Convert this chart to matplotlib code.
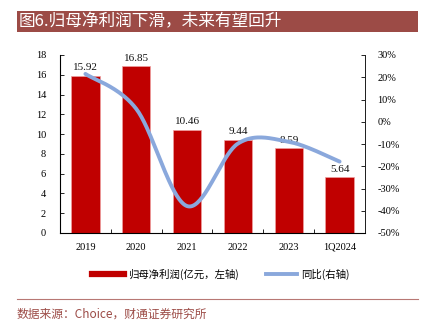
import numpy as np
import matplotlib
matplotlib.use("Agg")
import matplotlib.pyplot as plt
from matplotlib.patches import Rectangle
from matplotlib.lines import Line2D

categories = ["2019", "2020", "2021", "2022", "2023", "1Q2024"]
profit = [15.92, 16.85, 10.46, 9.44, 8.59, 5.64]
yoy = [21.5, 5.8, -37.9, -9.8, -9.0, -17.9]
left_ticks = [0, 2, 4, 6, 8, 10, 12, 14, 16, 18]
right_ticks = [-50, -40, -30, -20, -10, 0, 10, 20, 30]

title = "图6.归母净利润下滑，未来有望回升"
legend_labels = ["归母净利润(亿元，左轴)", "同比(右轴)"]
source = "数据来源：Choice，财通证券研究所"

W, H = 427, 324
fig = plt.figure(figsize=(W / 100, H / 100), dpi=100)
fig.patch.set_facecolor("white")

serif = ["Liberation Serif", "DejaVu Serif"]
cjk = ["Noto Sans CJK SC", "DejaVu Sans"]

# title bar
fig.patches.append(Rectangle((17 / W, 1 - 32 / H), 401 / W, 21 / H,
                             transform=fig.transFigure, facecolor="#9C4B46",
                             edgecolor="none", zorder=0))
fig.text(19 / W, 1 - 21.5 / H, title, color="white", fontsize=12,
         family=cjk, va="center", ha="left")

ax = fig.add_axes([60 / W, 1 - 233 / H, 305 / W, 178 / H])
x = np.arange(len(categories))
bars = ax.bar(x, profit, width=0.56, color="#C00000", edgecolor="#F0A0A0",
              linewidth=0.5, zorder=2)
for xi, v in zip(x, profit):
    ax.text(xi, v + 0.35, f"{v:.2f}", ha="center", va="bottom",
            fontsize=8, family=serif, color="#111111", zorder=5)
ax.set_xlim(-0.5, len(categories) - 0.5)
ax.set_ylim(0, 18)
ax.set_yticks(left_ticks)
ax.set_yticklabels([str(t) for t in left_ticks], family=serif, fontsize=7.5)
ax.set_xticks(x)
ax.set_xticklabels(categories, family=serif, fontsize=7.5)
ax.tick_params(axis="x", length=0, pad=7)
ax.set_xticks(np.arange(-0.5, len(categories)), minor=True)
ax.tick_params(axis="x", which="minor", direction="in", length=3, width=0.6)
ax.tick_params(axis="y", direction="in", length=3, width=0.6, pad=10)
ax.spines["top"].set_visible(False)
for s in ["left", "bottom", "right"]:
    ax.spines[s].set_linewidth(0.7)
    ax.spines[s].set_color("#222222")

ax2 = ax.twinx()
ax2.set_ylim(-50, 30)
ax2.set_yticks(right_ticks)
ax2.set_yticklabels([f"{t}%" for t in right_ticks], family=serif, fontsize=7.5)
ax2.tick_params(axis="y", direction="in", length=3, width=0.6, pad=9)
ax2.spines["top"].set_visible(False)
ax2.spines["right"].set_linewidth(0.7)
ax2.spines["right"].set_color("#222222")

# smoothed (Catmull-Rom style) line computed in pixel-like space
sx, sy = 50.8, 2.225
P = np.column_stack([x * sx, np.array(yoy) * sy])
n = len(P)
curve = []
for i in range(n - 1):
    p0 = P[i - 1] if i > 0 else P[i]
    p3 = P[i + 2] if i + 2 < n else P[i + 1]
    p1, p2 = P[i], P[i + 1]
    c1 = p1 + (p2 - p0) / 6
    c2 = p2 - (p3 - p1) / 6
    t = np.linspace(0, 1, 40)[:, None]
    seg = ((1 - t) ** 3) * p1 + 3 * ((1 - t) ** 2) * t * c1 + 3 * (1 - t) * t ** 2 * c2 + t ** 3 * p2
    curve.append(seg if i == 0 else seg[1:])
curve = np.vstack(curve)
ax2.plot(curve[:, 0] / sx, curve[:, 1] / sy, color="#8AA8DC", linewidth=2.8,
         solid_capstyle="round", zorder=4)

# legend
handles = [Line2D([0], [0], color="#C00000", linewidth=4.5),
           Line2D([0], [0], color="#8AA8DC", linewidth=2.8)]
leg = fig.legend(handles, legend_labels, loc="center", bbox_to_anchor=(221 / W, 1 - 274 / H),
                 ncol=2, frameon=False, prop={"family": cjk, "size": 7.5},
                 handlelength=3.0, columnspacing=2.6, handletextpad=0.4)

# footer
fig.add_artist(Line2D([17 / W, 418 / W], [1 - 299 / H, 1 - 299 / H],
                      transform=fig.transFigure, color="#B87874", linewidth=0.8))
fig.text(17 / W, 1 - 314 / H, source, color="#9C4B46", fontsize=8.5,
         family=cjk, va="center", ha="left")

fig.savefig("out.png", dpi=100, facecolor="white")
